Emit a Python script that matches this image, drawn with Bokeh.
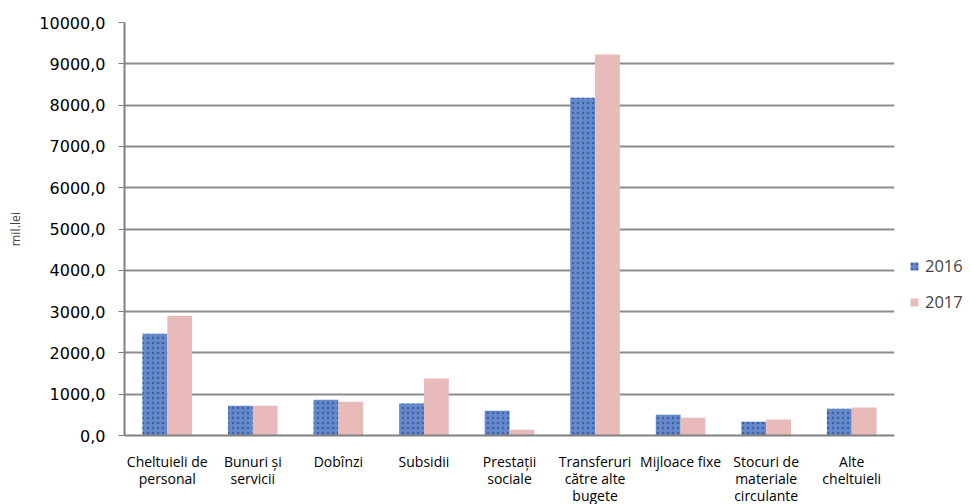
from bokeh.plotting import figure
from bokeh.models import ColumnDataSource, FixedTicker, Legend, LegendItem, Range1d
from bokeh.transform import dodge
from bokeh.embed import file_html
from bokeh.resources import INLINE

categories = ["Cheltuieli de\npersonal", "Bunuri și\nservicii", "Dobînzi", "Subsidii",
              "Prestații\nsociale", "Transferuri\ncătre alte\nbugete", "Mijloace fixe",
              "Stocuri de\nmateriale\ncirculante", "Alte\ncheltuieli"]
values_2016 = [2465, 720, 865, 775, 600, 8175, 505, 335, 650]
values_2017 = [2900, 720, 820, 1380, 140, 9225, 430, 385, 675]
y_ticks = [0, 1000, 2000, 3000, 4000, 5000, 6000, 7000, 8000, 9000, 10000]
y_tick_labels = ["0,0", "1000,0", "2000,0", "3000,0", "4000,0", "5000,0",
                 "6000,0", "7000,0", "8000,0", "9000,0", "10000,0"]
series_names = ["2016", "2017"]

pos = [i + 0.5 for i in range(len(categories))]
src = ColumnDataSource(dict(x=pos, v16=values_2016, v17=values_2017))

FONT = "Open Sans"
p = figure(frame_width=770, frame_height=413, output_backend="svg", toolbar_location=None,
           x_range=Range1d(0, len(categories)), y_range=Range1d(0, 10000),
           min_border_left=124, min_border_top=22, min_border_bottom=68, min_border_right=76)
p.outline_line_color = None
p.background_fill_color = "white"

bw = 0.29
r16 = p.vbar(x=dodge("x", -bw / 2, range=p.x_range), top="v16", width=bw, source=src,
             fill_color="#6489cc", line_color=None,
             hatch_pattern="dot", hatch_color="#2c4a86", hatch_scale=5,
             hatch_weight=1.6, hatch_alpha=0.65)
r17 = p.vbar(x=dodge("x", bw / 2, range=p.x_range), top="v17", width=bw, source=src,
             fill_color="#e8baba", line_color=None)

# axes
p.xaxis.ticker = FixedTicker(ticks=pos)
p.xaxis.major_label_overrides = {pv: c for pv, c in zip(pos, categories)}
p.xaxis.major_tick_line_color = None
p.xaxis.minor_tick_line_color = None
p.xaxis.axis_line_color = "#808080"
p.xaxis.axis_line_width = 2
p.xaxis.major_label_text_font = FONT
p.xaxis.major_label_text_font_size = "14px"
p.xaxis.major_label_text_color = "#000000"
p.xaxis.major_label_standoff = 10
p.xaxis.major_label_text_line_height = 0.9

p.yaxis.ticker = FixedTicker(ticks=y_ticks)
p.yaxis.major_label_overrides = {t: l for t, l in zip(y_ticks, y_tick_labels)}
p.yaxis.axis_line_color = "#808080"
p.yaxis.axis_line_width = 2
p.yaxis.major_tick_line_color = "#808080"
p.yaxis.major_tick_in = 0
p.yaxis.major_tick_out = 6
p.yaxis.minor_tick_line_color = None
p.yaxis.major_label_text_font = "DejaVu Sans"
p.yaxis.major_label_text_font_size = "16px"
p.yaxis.major_label_text_color = "#000000"
p.yaxis.major_label_standoff = 13
p.yaxis.axis_label = "mil.lei"
p.yaxis.axis_label_text_font = FONT
p.yaxis.axis_label_text_font_size = "12.5px"
p.yaxis.axis_label_text_font_style = "normal"
p.yaxis.axis_label_standoff = 12

p.xgrid.grid_line_color = None
p.ygrid.grid_line_color = "#8c8c8c"
p.ygrid.grid_line_width = 2
p.ygrid.ticker = FixedTicker(ticks=y_ticks)

legend = Legend(items=[LegendItem(label=series_names[0], renderers=[r16]),
                       LegendItem(label=series_names[1], renderers=[r17])],
                location=(15, 122), orientation="vertical",
                border_line_color=None, background_fill_alpha=0,
                padding=0, margin=0, spacing=13,
                glyph_width=10, glyph_height=10, label_height=20,
                label_text_font=FONT, label_text_font_size="16.5px",
                label_standoff=6)
p.add_layout(legend, "right")

open("out.html", "w").write(file_html(p, INLINE))
